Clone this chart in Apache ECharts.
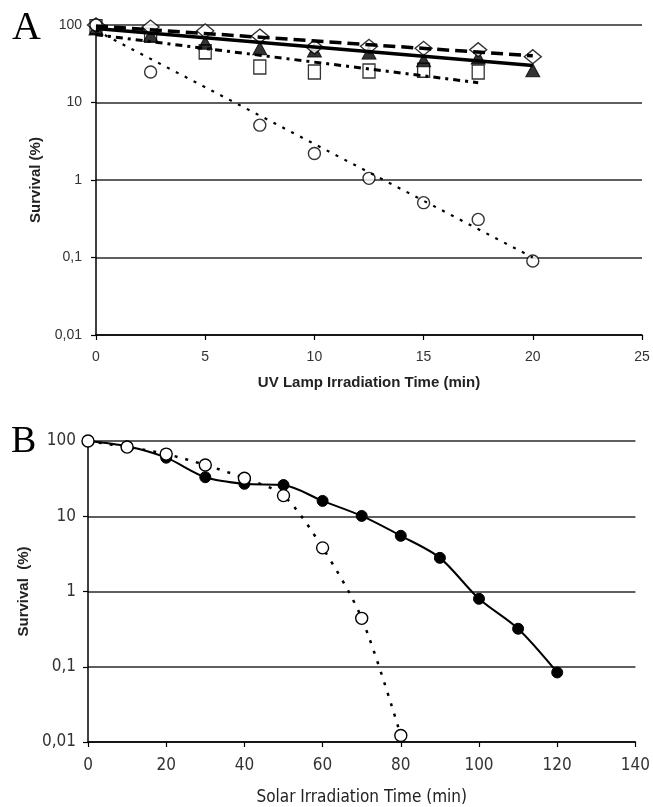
<!DOCTYPE html>
<html><head><meta charset="utf-8">
<script src="https://cdn.jsdelivr.net/npm/echarts@6/dist/echarts.min.js"></script>
<style>html,body{margin:0;padding:0;background:#fff}#c{width:653px;height:807px}</style>
</head><body><div id="c"></div>
<script>
// Panel A: UV lamp
const timeA = [0, 2.5, 5, 7.5, 10, 12.5, 15, 17.5, 20];
const circlesA = [100, 24.8, null, 5.1, 2.2, 1.05, 0.51, 0.31, 0.09];
const diamondsA = [100, 94, 84, 72, 52, 53, 50, 48, 39];
const trianglesA = [90, 74, 59, 50, 47, 44, 35, 38, 26];
const squaresA = [95, 74, 45, 28.7, 24.8, 25.5, 26, 24.8, null];
// trend lines (endpoints)
const trendCircleA = [[0, 85], [20, 0.1]];
const trendTriangleA = [[0, 90], [20, 30]];
const trendDiamondA = [[0, 97], [20, 40]];
const trendSquareA = [[0, 75], [17.5, 18]];
// Panel B: solar
const timeB = [0, 10, 20, 30, 40, 50, 60, 70, 80, 90, 100, 110, 120];
const filledB = [100, 85, 60, 33, 27, 26, 16, 10.1, 5.5, 2.8, 0.8, 0.32, 0.084];
const openB = [100, 83, 67, 48, 32, 18.8, 3.8, 0.44, 0.0122];

const pair = (xs, ys) => xs.map((x, i) => [x, ys[i]]).filter(p => p[1] != null);
const fmtLog = v => Number(Number(v).toPrecision(1)).toString().replace('.', ',');

const sansA = 'Liberation Sans, Arial, sans-serif';
const narrow = '"Liberation Sans Narrow", "DejaVu Sans Condensed", "Arial Narrow", sans-serif';
const gridColor = '#2a2a2a';

const chart = echarts.init(document.getElementById('c'), null, {renderer: 'canvas'});
const openStyle = {color: '#fff', borderColor: '#000', borderWidth: 1.4};
const filledStyle = {color: '#000', borderColor: '#000', borderWidth: 1};

chart.setOption({
  backgroundColor: '#fff',
  animation: false,
  title: [
    {text: 'A', left: 7, top: 3, textStyle: {fontFamily: 'Liberation Serif, Times New Roman, serif', fontSize: 40, fontWeight: 'normal', color: '#000'}},
    {text: 'B', left: 6, top: 418, textStyle: {fontFamily: 'Liberation Serif, Times New Roman, serif', fontSize: 38, fontWeight: 'normal', color: '#000'}}
  ],
  grid: [
    {left: 96, right: 11, top: 25, height: 310},
    {left: 88, right: 16, top: 441, height: 302}
  ],
  xAxis: [
    {gridIndex: 0, type: 'value', min: 0, max: 25, interval: 5,
     name: 'UV Lamp Irradiation Time (min)', nameLocation: 'middle', nameGap: 40,
     nameTextStyle: {fontFamily: sansA, fontSize: 15, fontWeight: 'bold', color: '#222'},
     axisLine: {show: true, lineStyle: {color: '#000', width: 1.5}},
     axisTick: {show: true, inside: false, length: 5, lineStyle: {color: '#000', width: 1.2}},
     axisLabel: {margin: 15, fontFamily: sansA, fontSize: 14, color: '#333'},
     splitLine: {show: false}},
    {gridIndex: 1, type: 'value', min: 0, max: 140, interval: 20,
     name: 'Solar Irradiation Time (min)', nameLocation: 'middle', nameGap: 47,
     nameTextStyle: {fontFamily: narrow, fontSize: 17, color: '#222'},
     axisLine: {show: true, lineStyle: {color: '#000', width: 1.5}},
     axisTick: {show: true, inside: false, length: 5, lineStyle: {color: '#000', width: 1.2}},
     axisLabel: {margin: 15, fontFamily: narrow, fontSize: 17, color: '#333'},
     splitLine: {show: false}}
  ],
  yAxis: [
    {gridIndex: 0, type: 'log', logBase: 10, min: 0.01, max: 100,
     name: 'Survival (%)', nameLocation: 'middle', nameGap: 50, nameRotate: 90,
     nameTextStyle: {fontFamily: sansA, fontSize: 15, fontWeight: 'bold', color: '#222'},
     axisLine: {show: true, lineStyle: {color: '#000', width: 1.5}},
     axisTick: {show: true, length: 5, lineStyle: {color: '#000', width: 1.2}},
     axisLabel: {margin: 14, fontFamily: sansA, fontSize: 14, color: '#333', formatter: fmtLog},
     splitLine: {show: true, lineStyle: {color: gridColor, width: 1.5}},
     minorTick: {show: false}},
    {gridIndex: 1, type: 'log', logBase: 10, min: 0.01, max: 100,
     name: 'Survival  (%)', nameLocation: 'middle', nameGap: 56, nameRotate: 90,
     nameTextStyle: {fontFamily: sansA, fontSize: 15, fontWeight: 'bold', color: '#222'},
     axisLine: {show: true, lineStyle: {color: '#000', width: 1.5}},
     axisTick: {show: true, length: 5, lineStyle: {color: '#000', width: 1.2}},
     axisLabel: {margin: 12, fontFamily: narrow, fontSize: 17, color: '#333', formatter: fmtLog},
     splitLine: {show: true, lineStyle: {color: gridColor, width: 1.5}}}
  ],
  series: [
    // Panel A trend lines
    {type: 'line', xAxisIndex: 0, yAxisIndex: 0, data: trendCircleA, showSymbol: false, symbol: 'none',
     lineStyle: {color: '#000', width: 2.2, type: [3, 7]}},
    {type: 'line', xAxisIndex: 0, yAxisIndex: 0, data: trendSquareA, showSymbol: false, symbol: 'none',
     lineStyle: {color: '#000', width: 3, type: [7, 5, 3, 5]}},
    {type: 'line', xAxisIndex: 0, yAxisIndex: 0, data: trendDiamondA, showSymbol: false, symbol: 'none',
     lineStyle: {color: '#000', width: 3.5, type: [12, 6]}},
    {type: 'line', xAxisIndex: 0, yAxisIndex: 0, data: trendTriangleA, showSymbol: false, symbol: 'none',
     lineStyle: {color: '#000', width: 3.5}},
    // Panel A markers
    {type: 'scatter', xAxisIndex: 0, yAxisIndex: 0, data: pair(timeA, squaresA), symbol: 'rect', symbolSize: [12, 14], itemStyle: openStyle},
    {type: 'scatter', xAxisIndex: 0, yAxisIndex: 0, data: pair(timeA, trianglesA), symbol: 'triangle', symbolSize: [14, 13], itemStyle: filledStyle},
    {type: 'scatter', xAxisIndex: 0, yAxisIndex: 0, data: pair(timeA, diamondsA), symbol: 'diamond', symbolSize: [17, 14], itemStyle: openStyle},
    {type: 'scatter', xAxisIndex: 0, yAxisIndex: 0, data: pair(timeA, circlesA), symbol: 'circle', symbolSize: 12, itemStyle: openStyle},
    // Panel B
    {type: 'line', xAxisIndex: 1, yAxisIndex: 1, data: pair(timeB, filledB), smooth: 0.3,
     symbol: 'circle', symbolSize: 11, itemStyle: filledStyle,
     lineStyle: {color: '#000', width: 2}},
    {type: 'line', xAxisIndex: 1, yAxisIndex: 1, data: pair(timeB, openB), smooth: 0.3,
     symbol: 'circle', symbolSize: 12, itemStyle: openStyle,
     lineStyle: {color: '#000', width: 2.5, type: [3, 8]}}
  ]
});
</script>
</body></html>
